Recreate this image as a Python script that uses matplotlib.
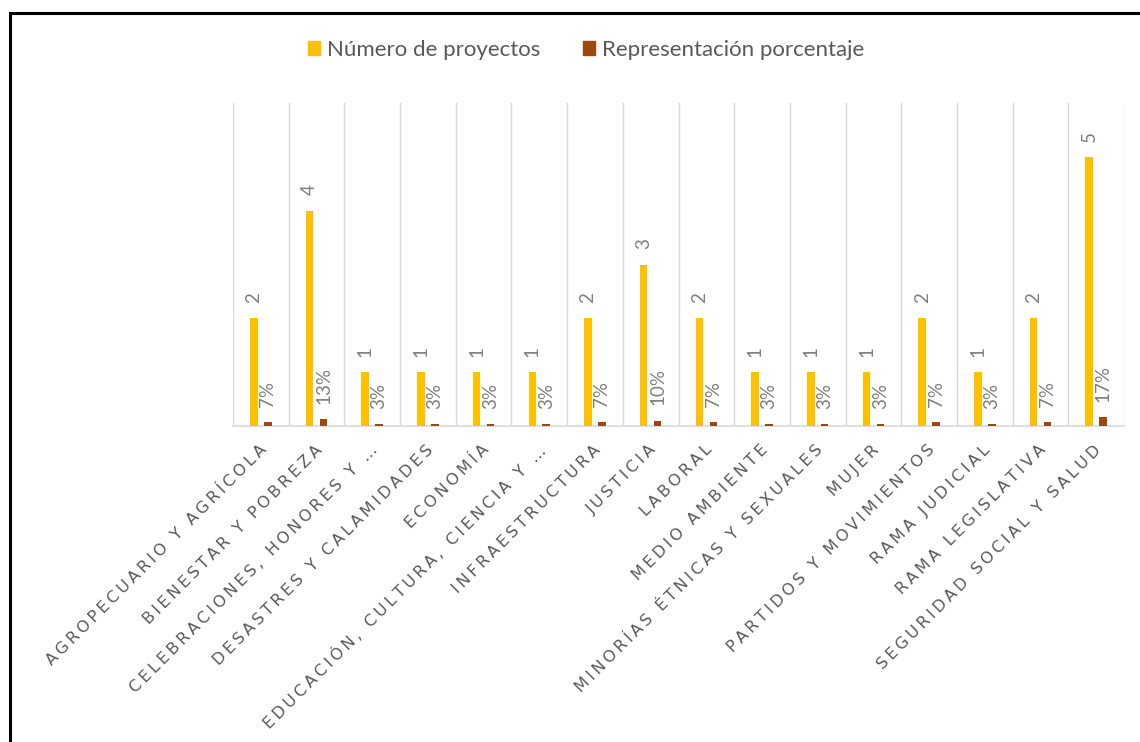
import numpy as np
import matplotlib
matplotlib.use("Agg")
import matplotlib.pyplot as plt
from matplotlib.patches import Patch, Rectangle

# data
categorias = [
    "AGROPECUARIO Y AGRÍCOLA",
    "BIENESTAR Y POBREZA",
    "CELEBRACIONES, HONORES Y …",
    "DESASTRES Y CALAMIDADES",
    "ECONOMÍA",
    "EDUCACIÓN, CULTURA, CIENCIA Y …",
    "INFRAESTRUCTURA",
    "JUSTICIA",
    "LABORAL",
    "MEDIO AMBIENTE",
    "MINORÍAS ÉTNICAS Y SEXUALES",
    "MUJER",
    "PARTIDOS Y MOVIMIENTOS",
    "RAMA JUDICIAL",
    "RAMA LEGISLATIVA",
    "SEGURIDAD SOCIAL Y SALUD",
]
num_proyectos = [2, 4, 1, 1, 1, 1, 2, 3, 2, 1, 1, 1, 2, 1, 2, 5]
porcentaje = [0.067, 0.133, 0.033, 0.033, 0.033, 0.033, 0.067, 0.100,
              0.067, 0.033, 0.033, 0.033, 0.067, 0.033, 0.067, 0.167]
serie_labels = ["Número de proyectos", "Representación porcentaje"]

GOLD = "#FFC000"
BROWN = "#9E480E"
LABEL_GRAY = "#7F7F7F"
TEXT_GRAY = "#595959"
GRID = "#D9D9D9"


def spaced(s):
    # fake the letter spacing of the axis labels (excel adds it after the last letter too)
    return "\u2009".join(s) + "\u2009"


fig = plt.figure(figsize=(11.4, 7.42), dpi=100)
ax = fig.add_axes([233 / 1140, 1 - 426 / 742, (1124 - 233) / 1140, (426 - 103) / 742])

x = np.arange(len(categorias))
w = 0.135
off = 0.125
ax.bar(x - off, num_proyectos, width=w, color=GOLD, zorder=3)
ax.bar(x + off, porcentaje, width=w, color=BROWN, zorder=3)

# data labels, rotated like the original
lbl_font = dict(rotation=90, ha="center", va="bottom", color=LABEL_GRAY,
                fontsize=13.5, family=["Lato", "DejaVu Sans"])
for xi, v in zip(x - off, num_proyectos):
    ax.annotate(str(v), (xi, v), xytext=(0, 11), textcoords="offset points", **lbl_font)
for xi, v in zip(x + off, porcentaje):
    ax.annotate(f"{round(v * 100)}%", (xi, v), xytext=(0, 11), textcoords="offset points",
                **lbl_font)

ax.set_xlim(-0.5, len(categorias) - 0.5)
ax.set_ylim(0, 6)
for b in np.arange(-0.5, len(categorias), 1.0):
    ax.axvline(b, color=GRID, lw=1, zorder=1)

ax.set_yticks([])
for s in ["top", "right", "left"]:
    ax.spines[s].set_visible(False)
ax.spines["bottom"].set_color(GRID)
ax.spines["bottom"].set_linewidth(1.2)

ax.set_xticks(x)
ax.set_xticklabels([spaced(c) for c in categorias], rotation=45, ha="right",
                   rotation_mode="anchor", color=TEXT_GRAY, fontsize=11.6,
                   family="DejaVu Sans")
ax.tick_params(axis="x", length=0, pad=10)

handles = [Patch(color=GOLD), Patch(color=BROWN)]
fig.legend(handles, serie_labels, loc="center", bbox_to_anchor=(586 / 1140, 1 - 50 / 742),
           ncol=2, frameon=False, handlelength=0.55, handleheight=0.55,
           handletextpad=0.3, columnspacing=1.9,
           prop={"family": ["Lato", "DejaVu Sans"], "size": 16}, labelcolor=TEXT_GRAY)

# outer chart border (cropped on the right and bottom)
fig.patches.append(Rectangle((10.5 / 1140, -0.1), 1.2, 1.1 - 12.5 / 742,
                             transform=fig.transFigure, fill=False,
                             edgecolor="black", lw=2.2))

fig.savefig("out.png", dpi=100)
